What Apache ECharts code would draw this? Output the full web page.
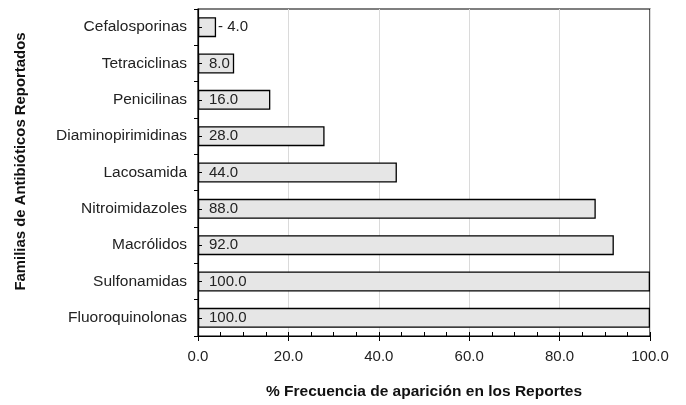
<!DOCTYPE html>
<html>
<head>
<meta charset="utf-8">
<script src="https://cdn.jsdelivr.net/npm/echarts@6/dist/echarts.min.js"></script>
<style>
  html, body { margin: 0; padding: 0; background: #fff; }
  #chart { width: 686px; height: 405px; }
</style>
</head>
<body>
<div id="chart"></div>
<script>
var categories = ['Cefalosporinas', 'Tetraciclinas', 'Penicilinas', 'Diaminopirimidinas', 'Lacosamida',
                  'Nitroimidazoles', 'Macrólidos', 'Sulfonamidas', 'Fluoroquinolonas'];
var values = [4.0, 8.0, 16.0, 28.0, 44.0, 88.0, 92.0, 100.0, 100.0];
var xTicks = [0, 20, 40, 60, 80, 100];

var font = '"Liberation Sans", Arial, sans-serif';
var chart = echarts.init(document.getElementById('chart'));

var barData = values.map(function (v) {
    var item = { value: v };
    if (v < 6) {
        item.label = { position: 'right', distance: 2 };
    }
    return item;
});

var option = {
    animation: false,
    textStyle: { fontFamily: font },
    grid: {
        left: 198, right: 36, top: 9, bottom: 68,
        show: true, borderColor: '#000', borderWidth: 1.2, backgroundColor: 'transparent'
    },
    xAxis: [
        {
            type: 'value', min: 0, max: 100, interval: 20,
            name: '% Frecuencia de aparición en los Reportes',
            nameLocation: 'middle', nameGap: 48,
            nameTextStyle: { fontWeight: 'bold', fontSize: 15.5, color: '#111', fontFamily: font },
            axisLine: { show: true, lineStyle: { color: '#000', width: 1.2 } },
            axisTick: { show: true, length: 5, lineStyle: { color: '#000' } },
            axisLabel: {
                color: '#222', fontSize: 15, margin: 13, fontFamily: font,
                formatter: function (v) { return xTicks.indexOf(v) >= 0 ? v.toFixed(1) : ''; }
            },
            splitLine: { show: true, lineStyle: { color: '#dadada', width: 1 } }
        },
        {
            type: 'value', min: 0, max: 100, interval: 20, position: 'bottom',
            axisLine: { show: false },
            axisTick: { show: true, inside: true, length: 4, lineStyle: { color: '#000' } },
            minorTick: { show: true, splitNumber: 4, length: 4, lineStyle: { color: '#000' } },
            axisLabel: { show: false },
            splitLine: { show: false }
        }
    ],
    yAxis: [
        {
            type: 'category', data: categories, inverse: true,
            name: 'Familias de Antibióticos Reportados',
            nameLocation: 'middle', nameGap: 170, nameRotate: 90,
            nameTextStyle: {
                fontWeight: 'bold', fontSize: 14.9, color: '#111', fontFamily: font,
                padding: [0, 0, 0, 22]
            },
            axisLine: { show: true, lineStyle: { color: '#000', width: 1.2 } },
            axisTick: { show: true, length: 4, lineStyle: { color: '#000' } },
            axisLabel: { color: '#222', fontSize: 15.5, margin: 11, fontFamily: font }
        },
        {
            type: 'category', data: categories, inverse: true, position: 'left', z: 5,
            axisLine: { show: false },
            axisTick: { show: true, inside: true, alignWithLabel: true, length: 4, lineStyle: { color: '#000' } },
            axisLabel: { show: false }
        }
    ],
    series: [{
        type: 'bar',
        data: barData,
        barWidth: 20,
        itemStyle: { color: '#e6e6e6', borderColor: '#000', borderWidth: 1.3 },
        label: {
            show: true, position: 'insideLeft', distance: 11,
            color: '#222', fontSize: 15, fontFamily: font,
            formatter: function (p) {
                return (p.value < 6 ? '- ' : '') + p.value.toFixed(1);
            }
        }
    }]
};

chart.setOption(option);
window.addEventListener('resize', chart.resize);
</script>
</body>
</html>
